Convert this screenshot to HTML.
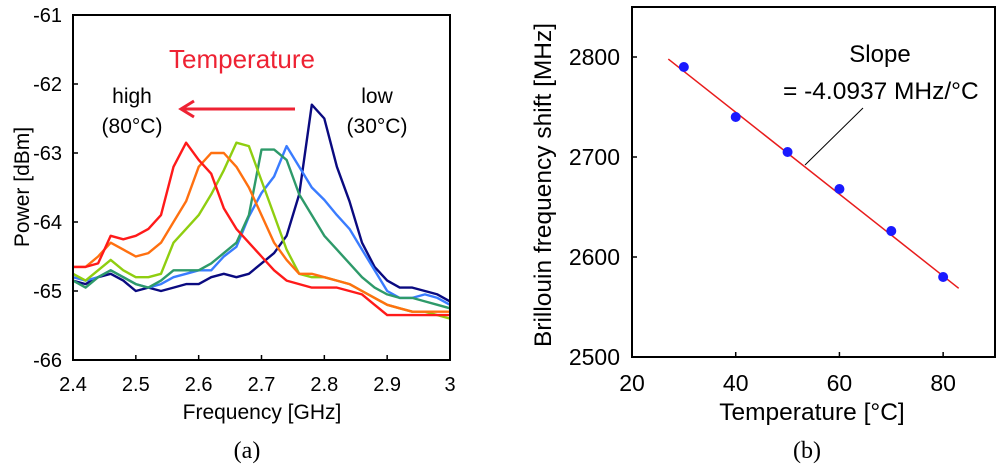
<!DOCTYPE html>
<html><head><meta charset="utf-8"><style>
html,body{margin:0;padding:0;background:#fff}
svg{display:block;font-family:"Liberation Sans",sans-serif}
</style></head><body>
<svg id="fig" width="1000" height="469" viewBox="0 0 1000 469">
<g id="pa"></g>
<g id="pb"></g>
</svg>
<script>
const freq=[2.40,2.42,2.44,2.46,2.48,2.50,2.52,2.54,2.56,2.58,2.60,2.62,2.64,2.66,2.68,2.70,2.72,2.74,2.76,2.78,2.80,2.82,2.84,2.86,2.88,2.90,2.92,2.94,2.96,2.98,3.00];
const s30=[-64.85,-64.9,-64.8,-64.75,-64.85,-65.0,-64.95,-65.0,-64.95,-64.9,-64.9,-64.8,-64.75,-64.8,-64.75,-64.6,-64.45,-64.2,-63.6,-62.3,-62.5,-63.2,-63.7,-64.3,-64.65,-64.85,-64.95,-64.95,-65.0,-65.05,-65.15];
const s40=[-64.8,-64.85,-64.8,-64.7,-64.8,-64.9,-64.95,-64.9,-64.8,-64.75,-64.7,-64.7,-64.5,-64.36,-63.92,-63.58,-63.34,-62.9,-63.2,-63.5,-63.68,-63.9,-64.1,-64.4,-64.7,-65.0,-65.1,-65.1,-65.05,-65.1,-65.2];
const s50=[-64.85,-64.95,-64.8,-64.7,-64.8,-64.9,-64.95,-64.85,-64.7,-64.7,-64.7,-64.6,-64.45,-64.3,-63.9,-62.95,-62.95,-63.1,-63.6,-63.9,-64.2,-64.4,-64.6,-64.8,-64.95,-65.05,-65.1,-65.1,-65.15,-65.2,-65.25];
const s60=[-64.75,-64.85,-64.7,-64.55,-64.7,-64.8,-64.8,-64.75,-64.3,-64.1,-63.9,-63.6,-63.25,-62.85,-62.9,-63.4,-63.9,-64.4,-64.75,-64.8,-64.8,-64.85,-64.9,-65.0,-65.1,-65.2,-65.25,-65.3,-65.3,-65.35,-65.4];
const s70=[-64.65,-64.65,-64.5,-64.3,-64.4,-64.5,-64.45,-64.3,-64.0,-63.7,-63.2,-63.0,-63.0,-63.2,-63.5,-63.9,-64.3,-64.55,-64.75,-64.75,-64.8,-64.85,-64.9,-65.0,-65.1,-65.2,-65.25,-65.3,-65.3,-65.3,-65.3];
const s80=[-64.65,-64.65,-64.6,-64.2,-64.25,-64.2,-64.1,-63.9,-63.2,-62.85,-63.1,-63.3,-63.8,-64.1,-64.3,-64.5,-64.7,-64.85,-64.9,-64.95,-64.95,-64.95,-65.0,-65.05,-65.2,-65.35,-65.35,-65.35,-65.35,-65.35,-65.35];
const seriesA=[s30,s40,s50,s60,s70,s80];
const seriesNames=['30C','40C','50C','60C','70C','80C'];
const seriesColors=['#0a0a80','#3a7cff','#2e9a6a','#8fce10','#ff7010','#ff1a1a'];
const aXTicks=['2.4','2.5','2.6','2.7','2.8','2.9','3'];
const aYTicks=['-61','-62','-63','-64','-65','-66'];
const temps=[30,40,50,60,70,80];
const shifts=[2790,2740,2705,2668,2626,2580];
const fitSlope=-4.0937;
const fitIntercept=2908.5;
const bXTicks=['20','40','60','80'];
const bYTicks=['2500','2600','2700','2800'];

const NS='http://www.w3.org/2000/svg';
function mk(parent,tag,attrs,text){const e=document.createElementNS(NS,tag);for(const k in attrs)e.setAttribute(k,attrs[k]);if(text!==undefined)e.textContent=text;parent.appendChild(e);return e;}

// Panel A
const pa=document.getElementById('pa');
const aL=73,aR=450,aT=15,aB=360;
const ax=f=>aL+(f-2.4)/0.6*(aR-aL);
const ay=v=>aT+(-61-v)/5*(aB-aT);
aXTicks.forEach(t=>{const x=ax(parseFloat(t));
 const tk=mk(pa,'line',{x1:x,x2:x,y1:aB,y2:aB-5,stroke:'#000','stroke-width':1.5});
 
 const l=mk(pa,'text',{x:x,y:391,'text-anchor':'middle','font-size':20},t);
 });
aYTicks.forEach(t=>{const y=ay(parseFloat(t));
 const tk=mk(pa,'line',{x1:aL,x2:aL+5,y1:y,y2:y,stroke:'#000','stroke-width':1.5});
 
 const l=mk(pa,'text',{x:62,y:y+7,'text-anchor':'end','font-size':20},t);
 });
seriesA.forEach((s,i)=>{const d=s.map((v,j)=>(j?'L':'M')+ax(freq[j]).toFixed(1)+','+ay(v).toFixed(1)).join(' ');
 const p=mk(pa,'path',{d:d,fill:'none',stroke:seriesColors[i],'stroke-width':2.4,'stroke-linejoin':'round'});
 });
const fa=mk(pa,'rect',{x:aL,y:aT,width:aR-aL,height:aB-aT,fill:'none',stroke:'#000','stroke-width':2});

let t;
t=mk(pa,'text',{x:262,y:419,'text-anchor':'middle','font-size':21},'Frequency [GHz]');
t=mk(pa,'text',{x:0,y:0,'text-anchor':'middle','font-size':21,transform:'translate(29,187) rotate(-90)'},'Power [dBm]');
t=mk(pa,'text',{x:242,y:68,'text-anchor':'middle','font-size':26,fill:'#ee2233'},'Temperature');
t=mk(pa,'text',{x:132,y:103,'text-anchor':'middle','font-size':21},'high');
t=mk(pa,'text',{x:132,y:133,'text-anchor':'middle','font-size':21},'(80°C)');
t=mk(pa,'text',{x:377,y:103,'text-anchor':'middle','font-size':21},'low');
t=mk(pa,'text',{x:377,y:133,'text-anchor':'middle','font-size':21},'(30°C)');
t=mk(pa,'path',{d:'M295,109 L182,109 M194,101 L181,109 L194,117',fill:'none',stroke:'#ee2233','stroke-width':3});
t=mk(pa,'text',{x:247,y:458,'text-anchor':'middle','font-size':24,'font-family':'Liberation Serif, serif'},'(a)');

// Panel B
const pb=document.getElementById('pb');
const bL=632,bR=995,bT=7,bB=357;
const bx=v=>bL+(v-20)/70*(bR-bL);
const by=v=>bB-(v-2500)/350*(bB-bT);
bXTicks.forEach(s=>{const x=bx(parseFloat(s));
 const tk=mk(pb,'line',{x1:x,x2:x,y1:bB,y2:bB-5,stroke:'#000','stroke-width':1.5});
 
 const l=mk(pb,'text',{x:x,y:391,'text-anchor':'middle','font-size':23},s);
 });
bYTicks.forEach(s=>{const y=by(parseFloat(s));
 const tk=mk(pb,'line',{x1:bL,x2:bL+5,y1:y,y2:y,stroke:'#000','stroke-width':1.5});
 
 const l=mk(pb,'text',{x:620,y:y+8,'text-anchor':'end','font-size':23},s);
 });
const f0=27,f1=83;
const fit=mk(pb,'line',{x1:bx(f0),y1:by(fitIntercept+fitSlope*f0),x2:bx(f1),y2:by(fitIntercept+fitSlope*f1),stroke:'#e81c1c','stroke-width':1.5});

temps.forEach((v,i)=>{const c=mk(pb,'circle',{cx:bx(v),cy:by(shifts[i]),r:5,fill:'#1a1aff'});
 });
const fb=mk(pb,'rect',{x:bL,y:bT,width:bR-bL,height:bB-bT,fill:'none',stroke:'#000','stroke-width':2});

t=mk(pb,'text',{x:880,y:62,'text-anchor':'middle','font-size':24},'Slope');
t=mk(pb,'text',{x:783,y:99,'font-size':24.5},'= -4.0937 MHz/°C');
t=mk(pb,'line',{x1:863,y1:108,x2:805,y2:165,stroke:'#000','stroke-width':1});
t=mk(pb,'text',{x:812,y:420,'text-anchor':'middle','font-size':24.5},'Temperature [°C]');
t=mk(pb,'text',{x:0,y:0,'text-anchor':'middle','font-size':24.5,transform:'translate(551,185) rotate(-90)'},'Brillouin frequency shift [MHz]');
t=mk(pb,'text',{x:807,y:458,'text-anchor':'middle','font-size':24,'font-family':'Liberation Serif, serif'},'(b)');
</script>
</body></html>
